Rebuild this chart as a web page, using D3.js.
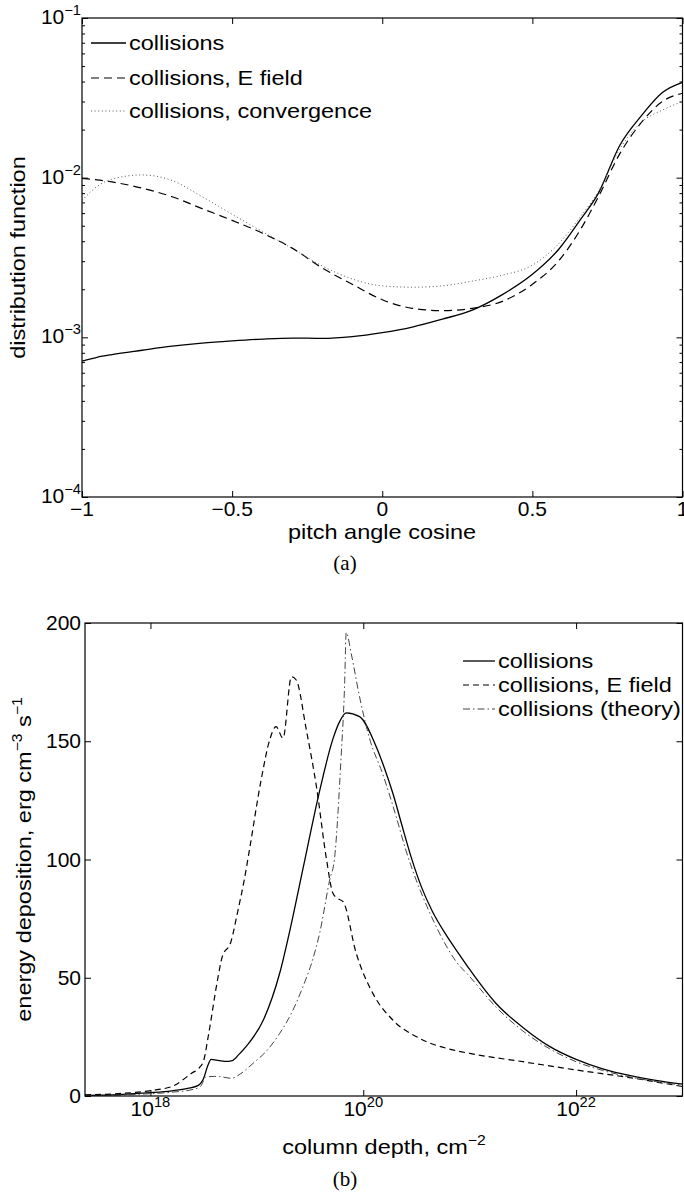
<!DOCTYPE html>
<html>
<head>
<meta charset="utf-8">
<script src="https://cdn.jsdelivr.net/npm/d3@7"></script>
<style>
  body { margin: 0; background: #fff; }
  text { font-family: "Liberation Sans", Arial, Helvetica, sans-serif; fill: #000; }
</style>
</head>
<body>
<svg id="fig" width="684" height="1201"></svg>
<script>
// ---- (a) distribution function vs pitch angle cosine ----
const muGrid = [-1, -0.95, -0.9, -0.8, -0.7, -0.6, -0.5, -0.4, -0.3, -0.2, -0.1, 0,
                0.1, 0.2, 0.3, 0.4, 0.5, 0.59, 0.66, 0.72, 0.79, 0.866, 0.933, 1];
const fCollisions = [7.1e-4, 7.5e-4, 7.8e-4, 8.3e-4, 8.8e-4, 9.2e-4, 9.5e-4, 9.75e-4, 9.9e-4, 9.85e-4, 1.01e-3, 1.07e-3,
                     1.16e-3, 1.3e-3, 1.48e-3, 1.85e-3, 2.48e-3, 3.6e-3, 5.46e-3, 8.0e-3, 1.58e-2, 2.48e-2, 3.41e-2, 3.95e-2];
const fEfield = [9.9e-3, 9.7e-3, 9.4e-3, 8.6e-3, 7.6e-3, 6.4e-3, 5.4e-3, 4.5e-3, 3.62e-3, 2.72e-3, 2.15e-3, 1.72e-3,
                 1.52e-3, 1.47e-3, 1.52e-3, 1.68e-3, 2.15e-3, 3.05e-3, 4.73e-3, 7.6e-3, 1.4e-2, 2.25e-2, 3.0e-2, 3.38e-2];
const fConverge = [7.2e-3, 8.8e-3, 9.8e-3, 1.04e-2, 9.6e-3, 7.6e-3, 5.9e-3, 4.6e-3, 3.6e-3, 2.8e-3, 2.32e-3, 2.1e-3,
                   2.06e-3, 2.1e-3, 2.25e-3, 2.45e-3, 2.83e-3, 3.9e-3, 5.7e-3, 8.2e-3, 1.5e-2, 2.25e-2, 2.65e-2, 3.0e-2];
const muTicks = [-1, -0.5, 0, 0.5, 1];
const fDecades = [1e-4, 1e-3, 1e-2, 1e-1];
const fDecadeExp = ["−4", "−3", "−2", "−1"];
const legendA = ["collisions", "collisions, E field", "collisions, convergence"];

// ---- (b) energy deposition vs column depth (log10 cm^-2) ----
const logNColl = [17.385, 17.7, 18.0, 18.2, 18.35, 18.45, 18.5, 18.54, 18.57, 18.62, 18.7, 18.77, 18.83, 18.9,
                  19.06, 19.215, 19.325, 19.433, 19.59, 19.715, 19.78, 19.84, 19.965, 20.122, 20.2, 20.278,
                  20.36, 20.45, 20.55, 20.65, 20.78, 20.9, 21.0, 21.25, 21.5, 21.75, 22.0, 22.25, 22.5, 22.75, 23.0];
const eColl = [0.3, 0.6, 1.4, 2.2, 3.2, 4.5, 7.5, 13, 15.5, 15.2, 14.6, 15, 17.5, 21,
               32, 52, 73, 96, 129, 151, 158.5, 162, 160.4, 147.7, 138.5, 128,
               115, 101, 88, 78, 68, 60, 53.5, 39, 29, 21, 15.5, 11.5, 8.7, 6.6, 5];
const logNEfield = [17.385, 17.7, 18.0, 18.2, 18.39, 18.46, 18.5, 18.55, 18.63, 18.675, 18.755, 18.82, 18.88, 18.93,
                    19.04, 19.12, 19.18, 19.246, 19.325, 19.37, 19.465, 19.56, 19.653, 19.715, 19.76, 19.81,
                    19.934, 20.09, 20.278, 20.528, 20.84, 21.0, 21.5, 22.0, 22.5, 23.0];
const eEfield = [0.5, 1.0, 2.3, 4.0, 9.7, 12, 15, 27, 49, 58.9, 65, 78, 91, 104,
                 133.6, 150.5, 156.2, 151.3, 177.3, 175.9, 154.8, 130.8, 100.5, 85.7, 83.5, 82.2,
                 60.3, 43.4, 32.1, 24.4, 19.5, 18, 14.5, 11, 7.8, 4];
const logNTheory = [17.385, 17.7, 18.0, 18.2, 18.4, 18.47, 18.52, 18.6, 18.65, 18.76, 18.85, 18.964, 19.1,
                    19.215, 19.325, 19.433, 19.52, 19.59, 19.684, 19.73, 19.79, 19.824, 19.84, 19.887, 19.965,
                    20.06, 20.184, 20.31, 20.4, 20.5, 20.6, 20.72, 20.87, 21.0, 21.25, 21.5, 21.75, 22.0, 22.25,
                    22.5, 22.75, 23.0];
const eTheory = [0.2, 0.4, 1.0, 1.6, 2.8, 4.0, 8.0, 8.3, 8.2, 7.5, 9.5, 13.8, 19.5,
                 26.5, 35, 46.2, 57, 68.8, 91.3, 100.5, 142, 173, 196, 187, 168.8,
                 151, 136, 118, 104, 91, 80, 68.5, 57, 50.5, 37.5, 27.5, 20, 14.5, 10.8,
                 8.1, 6.1, 4.6];
const depthTicks = [1e18, 1e20, 1e22];
const depthTickExp = ["18", "20", "22"];
const eTicks = [0, 50, 100, 150, 200];
const legendB = ["collisions", "collisions, E field", "collisions (theory)"];

const svg = d3.select("#fig");
const FS = 21, SX = 1.12;      // axis labels and legends
const TFS = 20, TSX = 1.05;    // tick labels
const SERIF = "'Liberation Serif', 'Times New Roman', serif";

// text with optional superscripts; parts: "plain" or ["sup"]
function addText(x, y, parts, opt) {
  opt = opt || {};
  const size = opt.size || FS;
  const t = svg.append("text")
      .attr("transform", `translate(${x},${y}) rotate(${opt.rot || 0}) scale(${opt.sx || SX},1)`)
      .attr("text-anchor", opt.anchor || "start")
      .style("font-size", size + "px");
  if (opt.family) t.style("font-family", opt.family);
  let raised = 0;
  parts.forEach(p => {
    const sup = Array.isArray(p);
    const shift = sup ? -Math.round(size * 0.45) : 0;
    t.append("tspan")
        .attr("dy", shift - raised)
        .style("font-size", sup ? Math.round(size * 0.68) + "px" : null)
        .text(sup ? p[0] : p);
    raised = shift;
  });
  return t;
}

function frame(x0, x1, y0, y1) {
  svg.append("rect").attr("x", x0).attr("y", y0)
      .attr("width", x1 - x0).attr("height", y1 - y0)
      .attr("fill", "none").attr("stroke", "#000").attr("stroke-width", 1.2);
}

function ticks(axisFn, scale, values, size, tx, ty) {
  svg.append("g").attr("transform", `translate(${tx},${ty})`)
      .call(axisFn(scale).tickValues(values).tickSizeInner(-size).tickSizeOuter(0).tickFormat(""))
      .call(g => g.select(".domain").remove())
      .selectAll("line").attr("stroke", "#000").attr("stroke-width", 1);
}

const styles = {
  solid:   {stroke: "#000", width: 1.3, dash: null},
  dashed:  {stroke: "#000", width: 1.2, dash: "8,5"},
  dashedB: {stroke: "#000", width: 1.2, dash: "6,4"},
  dotted:  {stroke: "#555", width: 1.0, dash: "1,2.6"},
  dashdot: {stroke: "#444", width: 1.0, dash: "7,3,1.5,3"}
};

function curve(g, pts, line, st) {
  g.append("path").datum(pts)
      .attr("d", line)
      .attr("fill", "none")
      .attr("stroke", st.stroke)
      .attr("stroke-width", st.width)
      .attr("stroke-dasharray", st.dash);
}

function legend(x0, x1, ys, names, sts) {
  names.forEach((n, i) => {
    const s = sts[i];
    svg.append("line").attr("x1", x0).attr("x2", x1).attr("y1", ys[i]).attr("y2", ys[i])
        .attr("stroke", s.stroke).attr("stroke-width", s.width).attr("stroke-dasharray", s.dash);
    addText(x1 + 3, ys[i] + 7, [n]);
  });
}

// ================= panel (a) =================
const A = {l: 82, r: 682.5, t: 18, b: 497};
const xA = d3.scaleLinear().domain([-1, 1]).range([A.l, A.r]);
const yA = d3.scaleLog().domain([1e-4, 1e-1]).range([A.b, A.t]);

const minorA = [];
fDecades.slice(0, 3).forEach(d => { for (let k = 2; k <= 9; k++) minorA.push(d * k); });

ticks(d3.axisBottom, xA, muTicks, 6, 0, A.b);
ticks(d3.axisTop, xA, muTicks, 6, 0, A.t);
ticks(d3.axisLeft, yA, fDecades, 6, A.l, 0);
ticks(d3.axisLeft, yA, minorA, 3, A.l, 0);
ticks(d3.axisRight, yA, fDecades, 6, A.r, 0);
ticks(d3.axisRight, yA, minorA, 3, A.r, 0);

svg.append("clipPath").attr("id", "clipA").append("rect")
    .attr("x", A.l).attr("y", A.t).attr("width", A.r - A.l).attr("height", A.b - A.t);
const gA = svg.append("g").attr("clip-path", "url(#clipA)");
const lineA = d3.line().x(d => xA(d[0])).y(d => yA(d[1])).curve(d3.curveMonotoneX);
curve(gA, muGrid.map((m, i) => [m, fCollisions[i]]), lineA, styles.solid);
curve(gA, muGrid.map((m, i) => [m, fEfield[i]]), lineA, styles.dashed);
curve(gA, muGrid.map((m, i) => [m, fConverge[i]]), lineA, styles.dotted);
frame(A.l, A.r, A.t, A.b);

muTicks.forEach(v => addText(xA(v), 516, [d3.format("~g")(v)], {anchor: "middle", size: TFS, sx: TSX}));
fDecades.forEach((v, i) => addText(81, yA(v) + 6, ["10", [fDecadeExp[i]]], {anchor: "end", size: TFS, sx: TSX}));
addText(382, 539, ["pitch angle cosine"], {anchor: "middle"});
addText(25, (A.t + A.b) / 2, ["distribution function"], {anchor: "middle", rot: -90});
legend(91, 126, [43, 78, 111], legendA, [styles.solid, styles.dashed, styles.dotted]);
addText(345, 570, ["(a)"], {anchor: "middle", sx: 1, family: SERIF});

// ================= panel (b) =================
const B = {l: 85, r: 682.5, t: 623, b: 1096};
const xB = d3.scaleLog().domain([Math.pow(10, 17.385), 1e23]).range([B.l, B.r]);
const yB = d3.scaleLinear().domain([0, 200]).range([B.b, B.t]);

ticks(d3.axisBottom, xB, depthTicks, 6, 0, B.b);
ticks(d3.axisTop, xB, depthTicks, 6, 0, B.t);
ticks(d3.axisLeft, yB, eTicks, 6, B.l, 0);
ticks(d3.axisRight, yB, eTicks, 6, B.r, 0);

svg.append("clipPath").attr("id", "clipB").append("rect")
    .attr("x", B.l).attr("y", B.t).attr("width", B.r - B.l).attr("height", B.b - B.t);
const gB = svg.append("g").attr("clip-path", "url(#clipB)");
const lineB = d3.line().x(d => xB(Math.pow(10, d[0]))).y(d => yB(d[1])).curve(d3.curveMonotoneX);
curve(gB, logNColl.map((n, i) => [n, eColl[i]]), lineB, styles.solid);
curve(gB, logNEfield.map((n, i) => [n, eEfield[i]]), lineB, styles.dashedB);
curve(gB, logNTheory.map((n, i) => [n, eTheory[i]]), lineB, styles.dashdot);
frame(B.l, B.r, B.t, B.b);

eTicks.forEach(v => addText(81, yB(v) + 7, [String(v)], {anchor: "end", size: TFS, sx: TSX}));
depthTicks.forEach((v, i) => addText(xB(v), 1116, ["10", [depthTickExp[i]]], {anchor: "middle", size: TFS, sx: TSX}));
addText(384, 1154, ["column depth, cm", ["−2"]], {anchor: "middle"});
addText(31, (B.t + B.b) / 2, ["energy deposition, erg cm", ["−3"], " s", ["−1"]], {anchor: "middle", rot: -90});
legend(463, 495, [661, 685, 709], legendB, [styles.solid, styles.dashedB, styles.dashdot]);
addText(345, 1186, ["(b)"], {anchor: "middle", sx: 1, family: SERIF});
</script>
</body>
</html>
